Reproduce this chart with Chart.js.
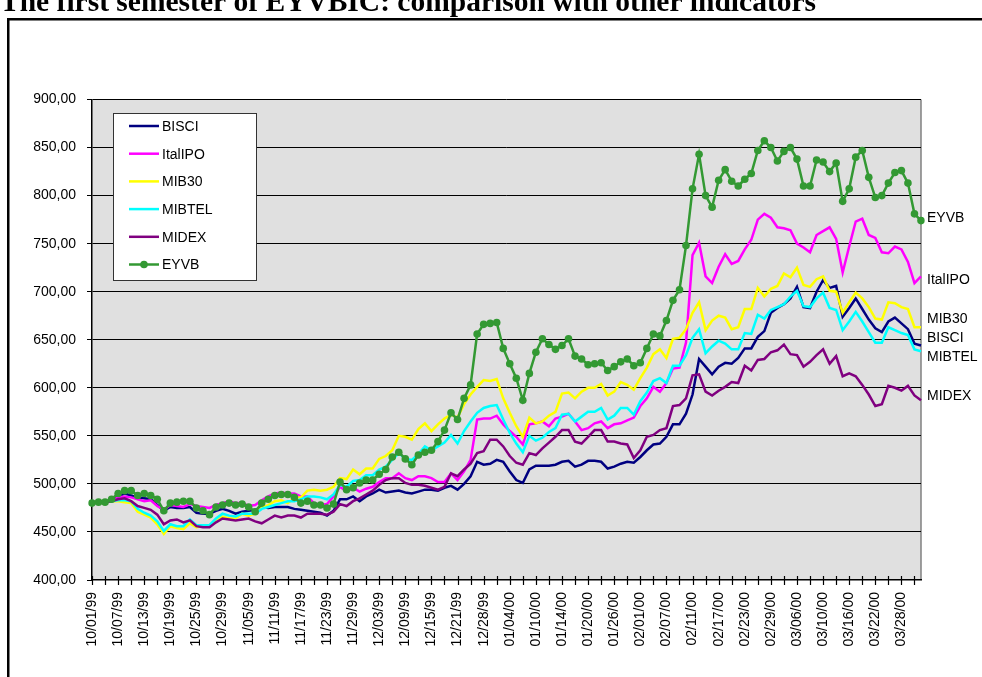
<!DOCTYPE html>
<html><head><meta charset="utf-8">
<script src="https://cdn.jsdelivr.net/npm/chart.js@4"></script>
<style>html,body{margin:0;padding:0;background:#fff;overflow:hidden}
canvas{display:block}</style></head>
<body><canvas id="c" width="982" height="677"></canvas>
<script>
const categories = ['10/01/99','10/04/99','10/05/99','10/06/99','10/07/99','10/08/99','10/11/99','10/12/99','10/13/99','10/14/99','10/15/99','10/18/99','10/19/99','10/20/99','10/21/99','10/22/99','10/25/99','10/26/99','10/27/99','10/28/99','10/29/99','11/02/99','11/03/99','11/04/99','11/05/99','11/08/99','11/09/99','11/10/99','11/11/99','11/12/99','11/15/99','11/16/99','11/17/99','11/18/99','11/19/99','11/22/99','11/23/99','11/24/99','11/25/99','11/26/99','11/29/99','11/30/99','12/01/99','12/02/99','12/03/99','12/06/99','12/07/99','12/08/99','12/09/99','12/10/99','12/13/99','12/14/99','12/15/99','12/16/99','12/17/99','12/20/99','12/21/99','12/22/99','12/23/99','12/27/99','12/28/99','12/29/99','12/30/99','01/03/00','01/04/00','01/05/00','01/06/00','01/07/00','01/10/00','01/11/00','01/12/00','01/13/00','01/14/00','01/17/00','01/18/00','01/19/00','01/20/00','01/21/00','01/24/00','01/25/00','01/26/00','01/27/00','01/28/00','01/31/00','02/01/00','02/02/00','02/03/00','02/04/00','02/07/00','02/08/00','02/09/00','02/10/00','02/11/00','02/14/00','02/15/00','02/16/00','02/17/00','02/18/00','02/21/00','02/22/00','02/23/00','02/24/00','02/25/00','02/28/00','02/29/00','03/01/00','03/02/00','03/03/00','03/06/00','03/07/00','03/08/00','03/09/00','03/10/00','03/13/00','03/14/00','03/15/00','03/16/00','03/17/00','03/20/00','03/21/00','03/22/00','03/23/00','03/24/00','03/27/00','03/28/00','03/29/00','03/30/00','03/31/00'];

const bisci = [480,481,481,483,487,490,488,486,485,484,
478,472,476,475,475,476,470,469,469,472,
474,472,469,471,472,473,476,475,476,476,
476,474,473,472,471,470,467,472,484,484,
487,482,487,490,494,491,492,493,491,490,
492,494,494,493,496,498,494,500,508,523,
520,521,525,523,513,504,501,515,519,519,
519,520,523,524,518,520,524,524,523,516,
518,521,523,522,528,535,541,542,549,562,
562,573,593,630,622,614,622,626,625,631,
641,641,653,659,678,683,687,693,705,684,
683,700,712,704,706,674,683,693,682,671,
662,658,669,673,667,661,646,644];

const italipo = [480,481,481,483,486,487,486,484,482,483,
477,473,478,477,476,479,477,476,475,478,
480,482,480,480,477,478,483,487,490,491,
490,490,487,487,480,478,479,487,497,492,
496,492,495,497,502,506,506,511,506,504,
508,508,506,502,502,511,504,513,525,567,
568,568,571,562,555,549,541,562,563,565,
560,568,570,573,565,556,558,563,565,558,
562,563,566,569,581,589,601,596,605,620,
621,647,738,751,716,709,726,739,729,732,
744,754,775,781,777,767,766,764,750,746,
741,759,763,767,755,720,747,773,776,759,
756,741,740,747,744,731,709,716];

const mib30 = [480,481,481,482,482,481,480,471,468,465,
458,448,456,454,453,459,455,456,456,463,
466,464,464,469,467,469,475,478,482,483,
480,485,486,493,494,493,494,497,506,505,
515,510,516,516,526,529,535,550,549,546,
557,563,555,562,568,572,569,583,593,601,
608,607,609,589,574,560,549,569,563,565,
571,575,594,595,589,596,600,600,604,592,
596,606,603,598,610,621,635,640,631,651,
652,661,678,689,660,670,675,673,661,663,
682,682,704,695,703,706,719,715,725,707,
705,713,716,701,700,678,689,699,693,684,
672,671,689,688,684,682,663,663];

const mibtel = [480,481,481,482,483,483,482,474,470,467,
461,451,458,456,456,463,457,457,457,464,
469,467,466,469,469,469,474,476,478,480,
482,482,484,487,487,486,484,489,499,497,
503,504,509,509,515,518,525,532,526,525,
531,539,535,539,543,551,542,555,565,574,
579,581,582,567,553,542,533,550,545,548,
554,558,572,573,565,570,575,575,579,567,
571,579,579,572,586,595,607,610,605,623,
623,634,652,661,636,643,649,646,640,640,
657,656,676,672,681,684,687,695,701,685,
684,693,699,683,681,660,669,679,669,658,
647,647,663,660,657,655,640,638];

const midex = [480,481,481,482,484,485,482,477,475,473,
468,458,462,463,460,462,456,455,455,460,
464,463,462,463,464,461,459,463,467,465,
467,467,465,469,469,469,468,471,479,477,
482,485,489,493,499,504,506,506,501,499,
499,498,496,494,497,511,508,515,521,532,
534,546,546,539,529,522,520,532,530,537,
543,549,556,556,544,542,549,556,556,544,
544,542,541,527,535,549,551,556,558,581,
582,589,613,614,596,592,597,601,606,605,
623,618,629,630,637,639,645,635,634,622,
627,634,640,625,633,612,615,612,603,593,
581,583,602,600,597,602,592,587];

const eyvb = [480,481,481,484,490,493,493,488,490,488,
484,472,480,481,482,482,475,472,468,476,
478,480,478,479,476,471,480,484,488,489,
489,486,480,482,478,478,475,479,502,494,
496,501,504,504,510,515,528,533,526,520,
530,533,535,544,556,574,567,589,603,656,
666,667,668,641,625,610,587,615,637,651,
645,640,644,651,633,630,624,625,626,618,
622,627,630,623,626,641,656,654,670,691,
702,748,807,843,800,788,816,827,815,810,
817,823,847,857,850,836,846,850,838,810,
810,837,835,825,834,794,807,840,847,819,
798,800,813,824,826,813,781,774];

const seriesNames = ['BISCI','ItalIPO','MIB30','MIBTEL','MIDEX','EYVB'];
const seriesColors = ['#000080','#FF00FF','#FFFF00','#00FFFF','#800080','#339933'];
const seriesData = [bisci, italipo, mib30, mibtel, midex, eyvb];

const yMin = 400, yMax = 900, yStep = 50;
const endLabels = ['EYVB','ItalIPO','MIB30','BISCI','MIBTEL','MIDEX'];
const endLabelValues = [778, 713, 672, 652.5, 633, 592];

const title = 'The first semester of EYVBIC: comparison with other indicators';
const FONT = '"Liberation Sans", Arial, sans-serif';

const datasets = seriesNames.map((n, k) => ({
  label: n,
  data: seriesData[k],
  borderColor: seriesColors[k],
  backgroundColor: seriesColors[k],
  borderWidth: 2.5,
  pointRadius: n === 'EYVB' ? 3.8 : 0,
  pointHoverRadius: 0,
  pointBorderWidth: 0,
  tension: 0,
  fill: false,
  order: seriesNames.length - 1 - k
}));

const decor = {
  id: 'decor',
  beforeDraw(chart) {
    const ctx = chart.ctx, a = chart.chartArea;
    ctx.save();
    ctx.fillStyle = '#fff';
    ctx.fillRect(0, 0, chart.width, chart.height);
    ctx.fillStyle = '#E0E0E0';
    ctx.fillRect(a.left, a.top, a.right - a.left, a.bottom - a.top);
    ctx.strokeStyle = '#808080';
    ctx.lineWidth = 1.5;
    ctx.beginPath();
    ctx.moveTo(a.right, a.top); ctx.lineTo(a.right, a.bottom);
    ctx.stroke();
    ctx.strokeStyle = '#000';
    ctx.lineWidth = 2.5;
    ctx.strokeRect(8.25, 19.25, 1200, 900);
    ctx.fillStyle = '#000';
    ctx.font = 'bold 29.5px "Liberation Serif", "Times New Roman", serif';
    ctx.textBaseline = 'alphabetic';
    ctx.textAlign = 'left';
    ctx.fillText(title, 0, 11);
    ctx.restore();
  },
  afterDraw(chart) {
    const ctx = chart.ctx, a = chart.chartArea, xs = chart.scales.x, ys = chart.scales.y;
    ctx.save();
    ctx.strokeStyle = '#000';
    ctx.lineWidth = 1.2;
    ctx.beginPath();
    for (let i = 0; i < categories.length; i += 2) {
      const x = Math.round(xs.getPixelForValue(i)) + 0.5;
      ctx.moveTo(x, a.bottom - 4); ctx.lineTo(x, a.bottom + 5);
    }
    ctx.stroke();
    const lx = 113.5, ly = 113.5, lw = 143, lh = 167;
    ctx.fillStyle = '#fff';
    ctx.fillRect(lx, ly, lw, lh);
    ctx.strokeStyle = '#333';
    ctx.lineWidth = 1;
    ctx.strokeRect(lx, ly, lw, lh);
    ctx.font = '14px ' + FONT;
    ctx.textBaseline = 'middle';
    ctx.textAlign = 'left';
    seriesNames.forEach((n, k) => {
      const y = 126 + 27.7 * k;
      ctx.strokeStyle = seriesColors[k];
      ctx.lineWidth = 2.5;
      ctx.beginPath(); ctx.moveTo(129, y); ctx.lineTo(159, y); ctx.stroke();
      if (n === 'EYVB') {
        ctx.fillStyle = seriesColors[k];
        ctx.beginPath(); ctx.arc(144, y, 3.8, 0, Math.PI * 2); ctx.fill();
      }
      ctx.fillStyle = '#000';
      ctx.fillText(n, 162, y + 1);
    });
    endLabels.forEach((n, k) => {
      ctx.fillText(n, 927, ys.getPixelForValue(endLabelValues[k]) + 1);
    });
    ctx.restore();
  }
};

new Chart(document.getElementById('c'), {
  type: 'line',
  data: { labels: categories, datasets },
  options: {
    responsive: false,
    animation: false,
    devicePixelRatio: 1,
    layout: { padding: { left: 0, right: 61, top: 99.5, bottom: 0 } },
    plugins: { legend: { display: false }, tooltip: { enabled: false }, title: { display: false } },
    scales: {
      x: {
        type: 'category',
        offset: false,
        afterFit: s => { s.height = 97; },
        grid: { display: true, drawOnChartArea: false, drawTicks: false, color: 'rgba(0,0,0,0)' },
        border: { display: true, color: '#000', width: 1.5 },
        ticks: {
          autoSkip: false, minRotation: 90, maxRotation: 90, padding: 12,
          color: '#000', font: { family: FONT, size: 14 },
          callback: (v, i) => (i % 4 === 0 ? categories[i] : '')
        }
      },
      y: {
        min: yMin, max: yMax,
        afterFit: s => { s.width = 92; },
        grid: {
          color: c => (c.tick && c.tick.value === yMin ? 'rgba(0,0,0,0)' : '#000'),
          lineWidth: 1, borderDash: [3, 2], tickBorderDash: [1, 0],
          tickColor: '#000', tickLength: 5, drawTicks: true
        },
        border: { display: true, color: '#000', width: 1.5 },
        ticks: {
          stepSize: yStep, padding: 11, color: '#000', font: { family: FONT, size: 14 },
          callback: v => v.toFixed(2).replace('.', ',')
        }
      }
    }
  },
  plugins: [decor]
});
</script>
</body></html>
